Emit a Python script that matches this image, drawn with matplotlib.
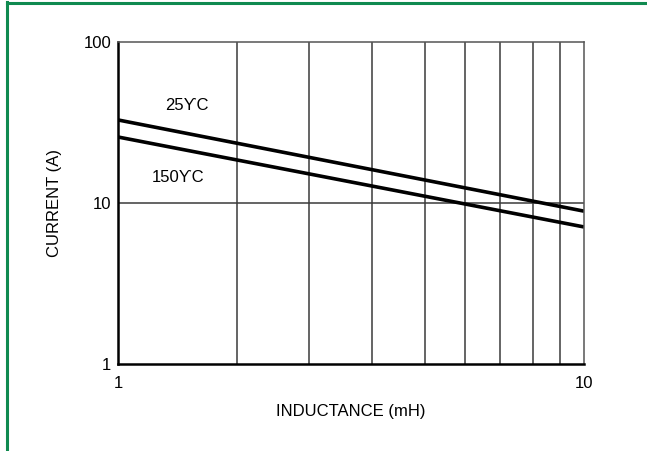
import numpy as np
import matplotlib.pyplot as plt
from matplotlib.lines import Line2D

plt.rcParams['font.family'] = ['Liberation Sans', 'DejaVu Sans']

# data
inductance = [1, 10]
current_25 = [32.8, 8.9]
current_150 = [25.7, 7.1]
curve_labels = ['25ϒC', '150ϒC']
label_pos = [(1.26, 40.6), (1.18, 14.5)]
# vertical grid lines as drawn on the original sheet (not exactly log spaced)
grid_x = [1.80, 2.57, 3.51, 4.56, 5.56, 6.61, 7.78, 8.89]

fig = plt.figure(figsize=(6.47, 4.51), dpi=100)
ax = fig.add_axes([118/647, 1 - 364/451, (584-118)/647, (364-42)/451])

ax.set_xscale('log')
ax.set_yscale('log')
ax.set_xlim(1, 10)
ax.set_ylim(1, 100)

ax.plot(inductance, current_25, color='black', lw=2.6, solid_capstyle='butt')
ax.plot(inductance, current_150, color='black', lw=2.6, solid_capstyle='butt')

for txt, (x, y) in zip(curve_labels, label_pos):
    ax.text(x, y, txt, fontsize=12, va='center', ha='left')

for xv in grid_x:
    ax.axvline(xv, color='#3a3a3a', lw=1.1, zorder=0)
ax.axhline(10, color='#3a3a3a', lw=1.1, zorder=0)

ax.set_xticks([1, 10])
ax.set_xticklabels(['1', '10'])
ax.set_yticks([1, 10, 100])
ax.set_yticklabels(['1', '10', '100'])
ax.minorticks_off()
ax.tick_params(axis='x', length=0, labelsize=12, pad=9)
ax.tick_params(axis='y', length=0, labelsize=12, pad=5)

for s in ['left', 'bottom']:
    ax.spines[s].set_linewidth(1.8)
    ax.spines[s].set_color('black')
for s in ['top', 'right']:
    ax.spines[s].set_linewidth(1.1)
    ax.spines[s].set_color('#555555')

ax.set_xlabel('INDUCTANCE (mH)', fontsize=12, labelpad=9)
ax.yaxis.set_label_coords(-64/466, 0.5)
ax.set_ylabel('CURRENT (A)', fontsize=12, va='center')

# green frame on top and left
fig.add_artist(Line2D([6.5/647, 6.5/647], [0, 1 - 2/451], color='#108a50', lw=2.2,
                      transform=fig.transFigure))
fig.add_artist(Line2D([6.5/647, 1], [1 - 2.5/451, 1 - 2.5/451], color='#108a50', lw=2.2,
                      transform=fig.transFigure))

fig.savefig('out.png', dpi=100)
